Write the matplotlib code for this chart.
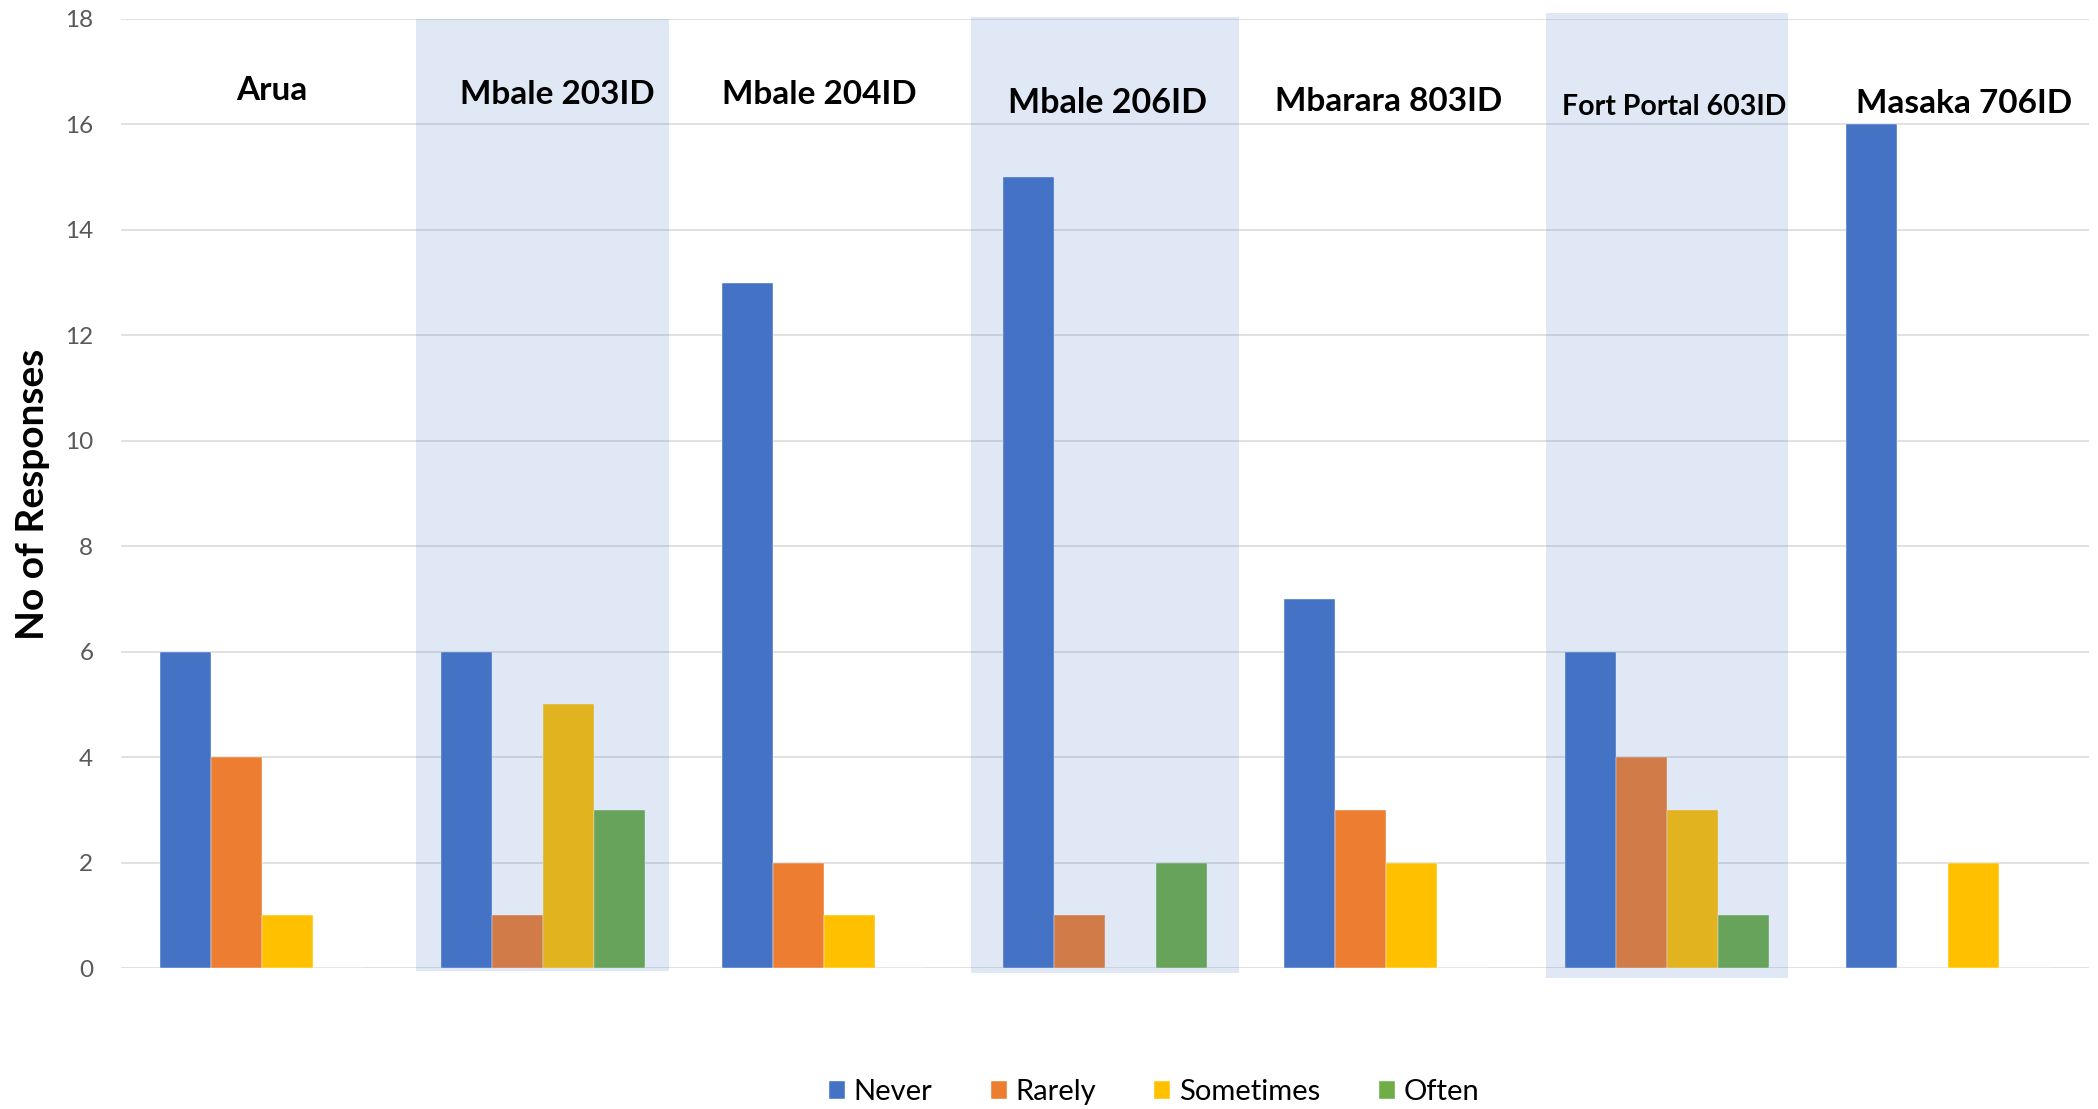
import matplotlib
matplotlib.use('Agg')
import matplotlib.pyplot as plt
import numpy as np
from matplotlib.patches import Rectangle

# data
sites = ['Arua', 'Mbale 203ID', 'Mbale 204ID', 'Mbale 206ID',
         'Mbarara 803ID', 'Fort Portal 603ID', 'Masaka 706ID']
series = ['Never', 'Rarely', 'Sometimes', 'Often']
never = [6, 6, 13, 15, 7, 6, 16]
rarely = [4, 1, 2, 1, 3, 4, 0]
sometimes = [1, 5, 1, 0, 2, 3, 2]
often = [0, 3, 0, 2, 0, 1, 0]
yticks = [0, 2, 4, 6, 8, 10, 12, 14, 16, 18]

colors = ['#4472C4', '#ED7D31', '#FFC000', '#70AD47']
plt.rcParams['font.family'] = ['Lato', 'DejaVu Sans']

fig = plt.figure(figsize=(20.98, 11.09), dpi=100)
ax = fig.add_axes([0.0577, 0.1271, 0.938, 0.8558])

x = np.arange(len(sites))
w = 0.1815
values = [never, rarely, sometimes, often]
for i, (name, vals) in enumerate(zip(series, values)):
    ax.bar(x + (i - 1.5) * w, vals, w, color=colors[i], label=name,
           edgecolor='#FFFFFF', linewidth=0.3, zorder=2)

ax.set_xlim(-0.5, len(sites) - 0.5)
ax.set_ylim(0, 18)
ax.set_yticks(yticks)
ax.set_xticks([])
ax.yaxis.grid(True, color='#D9D9D9', linewidth=1.1, zorder=0)
ax.set_axisbelow(True)
for s in ax.spines.values():
    s.set_visible(False)
ax.tick_params(axis='y', length=0, pad=20, labelsize=17.5, labelcolor='#595959')

# shaded panels (site index, half width, y bottom, y top)
shades = [(1, 0.45, -0.06, 18.0), (3, 0.477, -0.09, 18.04), (5, 0.43, -0.19, 18.11)]
for idx, hw, yb, yt in shades:
    ax.add_patch(Rectangle((idx - hw, yb), 2 * hw, yt - yb, facecolor='#4472C4',
                           alpha=0.16, edgecolor='none', zorder=3, clip_on=False))

# site titles
title_dx = [0.037, 0.051, -0.017, 0.01, 0.01, 0.025, 0.056]
title_y = [16.65, 16.56, 16.56, 16.41, 16.43, 16.33, 16.4]
title_fs = [24, 24, 24, 24.5, 24, 20.5, 24]
for i, name in enumerate(sites):
    ax.text(x[i] + title_dx[i], title_y[i], name, ha='center', va='center',
            fontsize=title_fs[i], fontweight='bold', color='black', zorder=5)

fig.text(0.0157, 0.554, 'No of Responses', rotation=90, ha='center', va='center',
         fontsize=28, fontweight='bold')

fig.legend(loc='center', bbox_to_anchor=(0.55, 0.0153), ncol=4, frameon=False,
           fontsize=21, handlelength=0.55, handleheight=0.55, handletextpad=0.3,
           columnspacing=2.0)

fig.savefig('out.png', dpi=100)
